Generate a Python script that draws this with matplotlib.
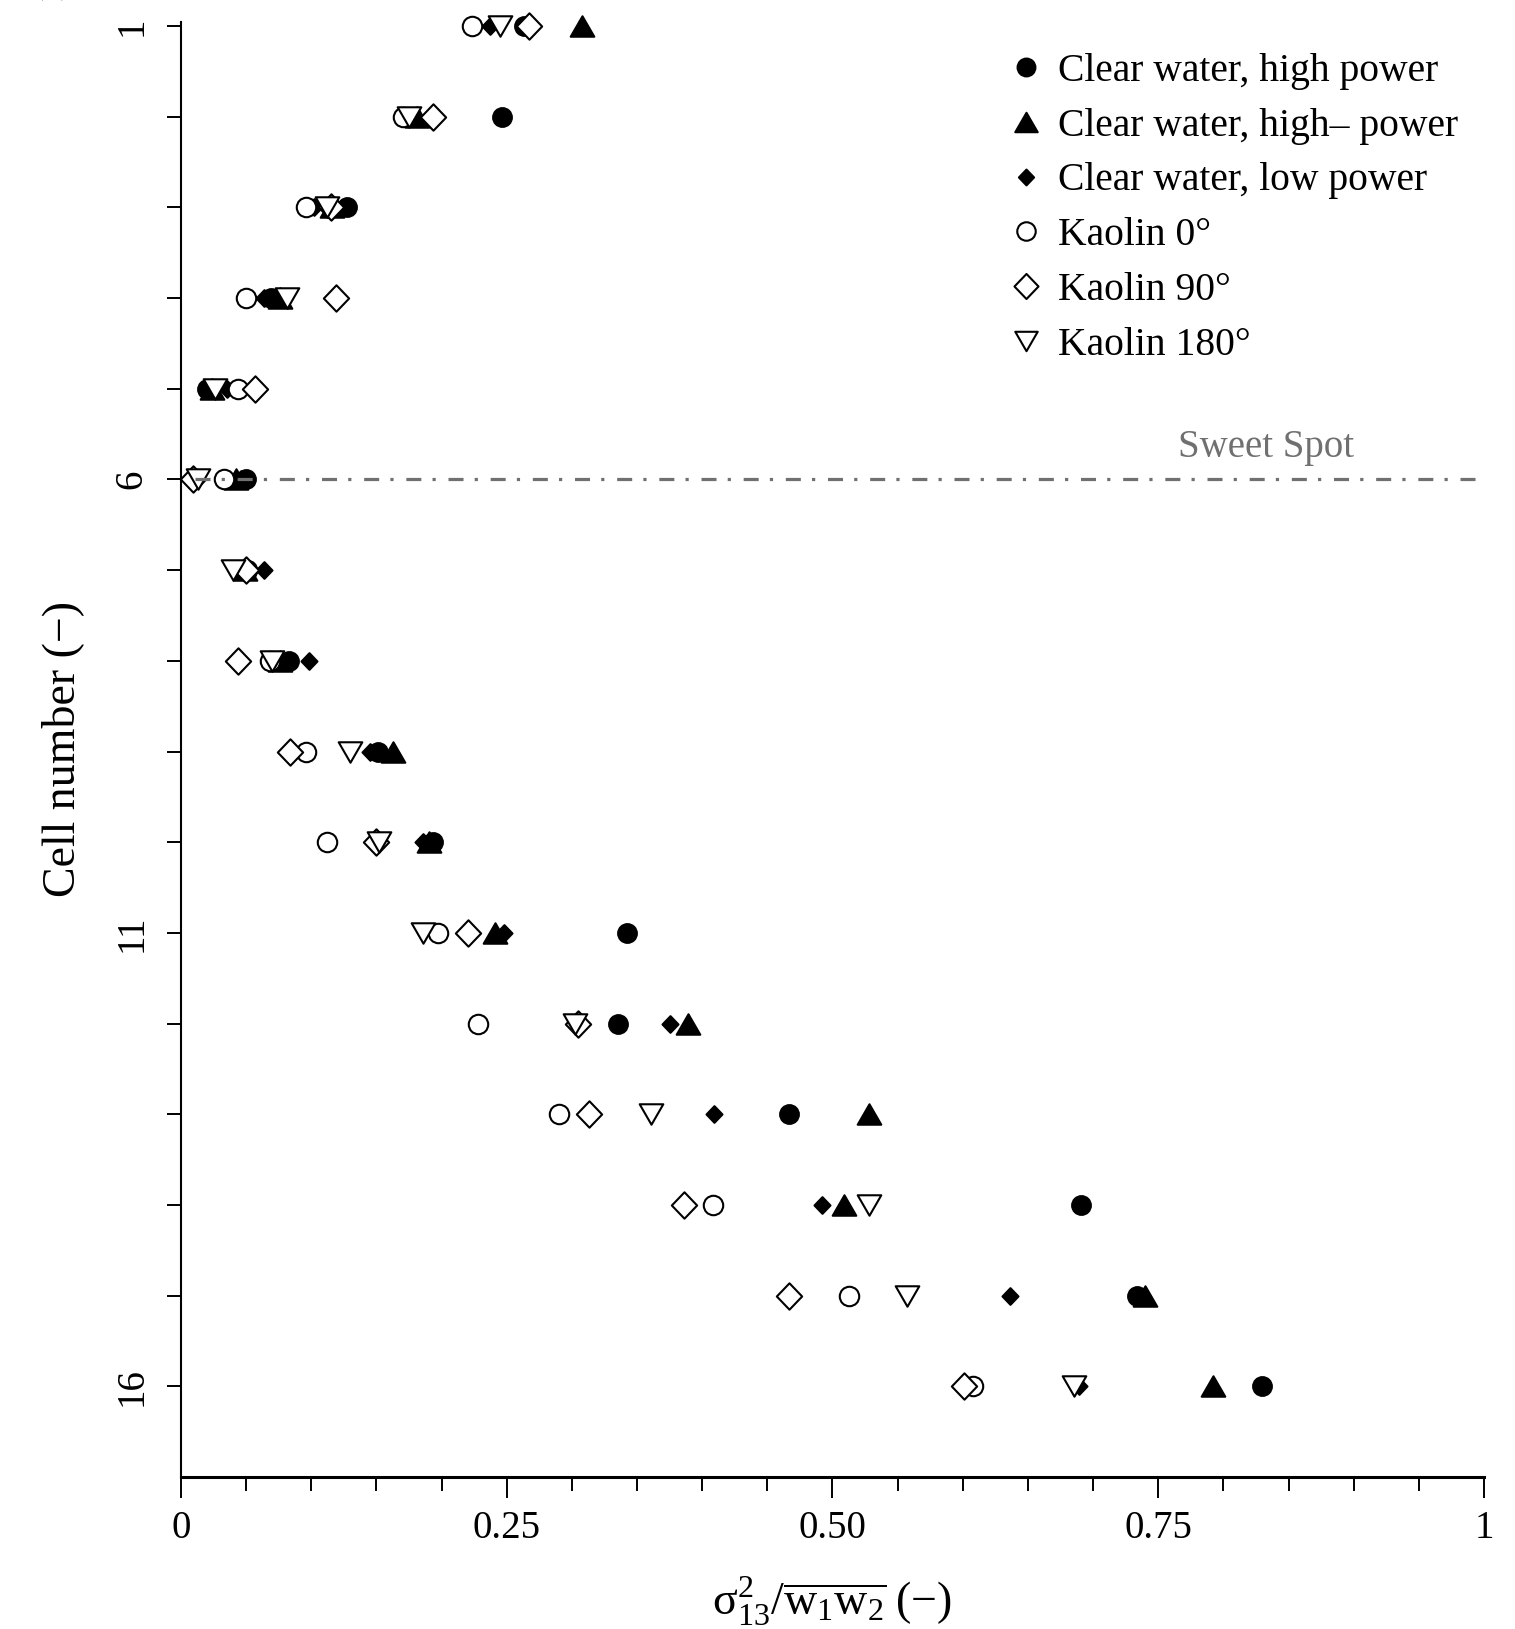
import numpy as np
import matplotlib
matplotlib.use("Agg")
import matplotlib.pyplot as plt
from matplotlib.path import Path
from matplotlib.ticker import MultipleLocator, FixedLocator

plt.rcParams['font.family'] = ['Liberation Serif', 'DejaVu Serif']
plt.rcParams['mathtext.fontset'] = 'stix'
plt.rcParams['mathtext.default'] = 'regular'

# cell numbers, top to bottom
cells = np.arange(1, 17)

# sigma^2_13 / w1w2 per cell
cw_high = [0.263, 0.246, 0.127, 0.069, 0.020, 0.050, 0.050, 0.083,
           0.151, 0.193, 0.342, 0.335, 0.467, 0.691, 0.734, 0.830]
cw_high_minus = [0.308, 0.181, 0.116, 0.076, 0.024, 0.042, 0.049, 0.076,
                 0.163, 0.190, 0.241, 0.389, 0.528, 0.509, 0.740, 0.792]
cw_low = [0.237, 0.178, 0.102, 0.064, 0.035, 0.046, 0.064, 0.098,
          0.145, 0.186, 0.248, 0.375, 0.409, 0.492, 0.636, 0.689]
kaolin_0 = [0.223, 0.170, 0.096, 0.050, 0.044, 0.033, 0.051, 0.068,
            0.096, 0.112, 0.197, 0.228, 0.290, 0.408, 0.513, 0.608]
kaolin_90 = [0.267, 0.193, 0.115, 0.119, 0.057, 0.009, 0.050, 0.044,
             0.084, 0.150, 0.220, 0.305, 0.313, 0.386, 0.467, 0.601]
kaolin_180 = [0.245, 0.175, 0.112, 0.081, 0.026, 0.013, 0.040, 0.070,
              0.130, 0.152, 0.186, 0.302, 0.361, 0.528, 0.557, 0.685]

sweet_spot = 6

# marker shapes
diamond = Path([(0, 1), (0.96, 0), (0, -1), (-0.96, 0), (0, 1)],
               [Path.MOVETO, Path.LINETO, Path.LINETO, Path.LINETO, Path.CLOSEPOLY])
tri_up = Path([(0, 0.866), (-1, -0.866), (1, -0.866), (0, 0.866)],
              [Path.MOVETO, Path.LINETO, Path.LINETO, Path.CLOSEPOLY])
tri_down = Path([(0, -0.866), (-1, 0.866), (1, 0.866), (0, -0.866)],
                [Path.MOVETO, Path.LINETO, Path.LINETO, Path.CLOSEPOLY])

fig = plt.figure(figsize=(15.15, 16.29), dpi=100)
ax = fig.add_axes([0.1195, 0.0933, 0.86, 0.8935])

series = [
    (cw_high, 'Clear water, high power', 'o', 13.5, 'black'),
    (cw_high_minus, 'Clear water, high\u2013 power', tri_up, 17, 'black'),
    (cw_low, 'Clear water, low power', diamond, 12, 'black'),
    (kaolin_0, 'Kaolin 0\u00b0', 'o', 14, 'white'),
    (kaolin_90, 'Kaolin 90\u00b0', diamond, 19, 'white'),
    (kaolin_180, 'Kaolin 180\u00b0', tri_down, 17, 'white'),
]

handles = []
for vals, label, mk, ms, fc in series:
    h, = ax.plot(vals, cells, linestyle='none', marker=mk, markersize=ms,
                 markerfacecolor=fc, markeredgecolor='black', markeredgewidth=1.5,
                 label=label, clip_on=False, zorder=3)
    handles.append(h)

# sweet spot line, drawn over the markers
ax.plot([0.011, 1.0], [sweet_spot, sweet_spot], color='#707070', lw=2.3,
        linestyle=(0, (4.7, 3.5, 1, 4.0)), zorder=4, clip_on=False)
ax.text(0.833, sweet_spot - 0.15, 'Sweet Spot', color='#707070', fontsize=28,
        ha='center', va='bottom')

ax.set_xlim(0, 1)
ax.set_ylim(17, 0.95)

ax.xaxis.set_major_locator(FixedLocator([0, 0.25, 0.5, 0.75, 1.0]))
ax.set_xticklabels(['0', '0.25', '0.50', '0.75', '1'])
ax.xaxis.set_minor_locator(MultipleLocator(0.05))
ax.yaxis.set_major_locator(FixedLocator([1, 6, 11, 16]))
ax.yaxis.set_minor_locator(FixedLocator(list(range(1, 17))))

for s in ['top', 'right']:
    ax.spines[s].set_visible(False)
ax.spines['left'].set_linewidth(1.5)
ax.spines['bottom'].set_linewidth(2.2)

ax.tick_params(axis='x', which='major', direction='out', length=15, width=1.4,
               labelsize=28, pad=9)
ax.tick_params(axis='x', which='minor', direction='out', length=10, width=1.4)
ax.tick_params(axis='y', which='both', direction='out', length=10, width=1.4)
ax.tick_params(axis='y', which='major', labelsize=28, pad=12)
for t in ax.get_yticklabels():
    t.set_rotation(90)
    t.set_va('center')

ax.set_ylabel('Cell number (\u2212)', fontsize=33, labelpad=21.5)
ax.set_xlabel(r'$\sigma^2_{13}/\overline{w_1w_2}$' + ' (\u2212)', fontsize=33, labelpad=20)

leg = ax.legend(handles=handles, loc='upper left', bbox_to_anchor=(0.623, 0.9894),
                frameon=False, fontsize=28.5, handlelength=0.9, handletextpad=0.35,
                labelspacing=0.45, markerscale=0.95, borderaxespad=0)

fig.text(0.02, 1.0 + 8 / 1629, '(a)', fontsize=28, va='baseline', ha='left')

fig.savefig('out.png', dpi=100)
